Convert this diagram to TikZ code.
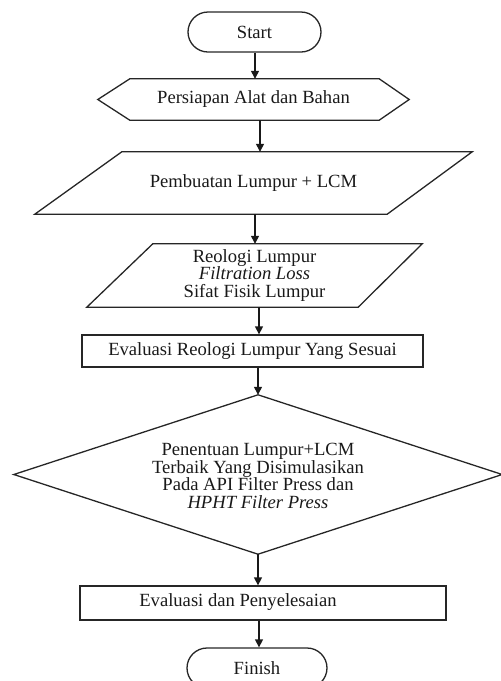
\documentclass[tikz,border=0pt]{standalone}
\usepackage{fontspec}
\setmainfont{Liberation Serif}
\usetikzlibrary{shapes.misc,arrows.meta}
\begin{document}
\begin{tikzpicture}[x=1pt,y=-1pt,
  every node/.style={font=\fontsize{18.6}{17.5}\selectfont, text=black!90, inner sep=0pt, align=center},
  shapeline/.style={draw=black!85, line width=1.3pt},
  term/.style={shapeline, rounded rectangle, minimum width=#1, minimum height=40pt},
  box/.style={shapeline, rectangle, minimum width=#1},
  ghost/.style={draw=none, rectangle},
  arr/.style={draw=black!90, line width=1.3pt, -{Triangle[length=8pt,width=8pt]}}]
\useasboundingbox (0,0) rectangle (501,681);
\clip (0,0) rectangle (501,681);

% nodes
\node[term=133pt] (start) at (254.5,32) {Start};
\node[ghost, minimum width=311pt, minimum height=41pt] (hex) at (253.5,99.5) {Persiapan Alat dan Bahan};
\node[ghost, minimum width=437pt, minimum height=62pt] (p1) at (253.5,183) {Pembuatan Lumpur + LCM};
\node[ghost, minimum width=335pt, minimum height=63pt] (p2) at (254.5,275.5) {Reologi Lumpur\\\textit{Filtration Loss}\\Sifat Fisik Lumpur};
\node[box=341pt, minimum height=32pt] (r1) at (252.5,351) {Evaluasi Reologi Lumpur Yang Sesuai};
\node[ghost, minimum width=488pt, minimum height=159pt] (dia) at (258,474.5) {};
\node (diat) at (258,476) {Penentuan Lumpur+LCM\\Terbaik Yang Disimulasikan\\Pada API Filter Press dan\\\textit{HPHT Filter Press}};
\node[box=366pt, minimum height=34pt] (r2) at (263,603) {};
\node (r2t) at (238,602) {Evaluasi dan Penyelesaian};
\node[term=140pt] (fin) at (257,668) {Finish};

% outlines
\draw[shapeline] (hex.west) -- ([xshift=32pt]hex.north west) -- ([xshift=-30pt]hex.north east)
  -- (hex.east) -- ([xshift=-30pt]hex.south east) -- ([xshift=32pt]hex.south west) -- cycle;
\draw[shapeline] ([xshift=87pt]p1.north west) -- (p1.north east) -- ([xshift=-85pt]p1.south east)
  -- (p1.south west) -- cycle;
\draw[shapeline] ([xshift=66pt]p2.north west) -- (p2.north east) -- ([xshift=-64pt]p2.south east)
  -- (p2.south west) -- cycle;
\draw[shapeline] (dia.north) -- (dia.east) -- (dia.south) -- (dia.west) -- cycle;

% connector x positions
\coordinate (c1) at (255,0);
\coordinate (c2) at (260,0);
\coordinate (c3) at (255,0);
\coordinate (c4) at (259,0);
\coordinate (c5) at (258,0);
\coordinate (c6) at (259,0);

\draw[arr] (start.south -| c1) -- (hex.north -| c1);
\draw[arr] (hex.south -| c2) -- (p1.north -| c2);
\draw[arr] (p1.south -| c3) -- (p2.north -| c3);
\draw[arr] (p2.south -| c4) -- (r1.north -| c4);
\draw[arr] (r1.south -| c5) -- (dia.north);
\draw[arr] (dia.south) -- (r2.north -| c5);
\draw[arr] (r2.south -| c6) -- (fin.north -| c6);
\end{tikzpicture}
\end{document}
